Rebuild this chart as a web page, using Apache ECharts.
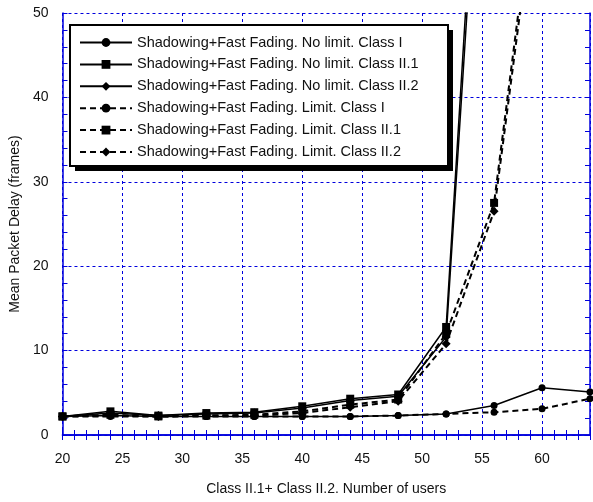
<!DOCTYPE html>
<html>
<head>
<meta charset="utf-8">
<script src="https://cdn.jsdelivr.net/npm/echarts@6/dist/echarts.min.js"></script>
<style>
  html, body { margin: 0; padding: 0; background: #fff; }
  #chart { width: 593px; height: 502px; }
</style>
</head>
<body>
<div id="chart"></div>
<script>
// number of users (Class II.1 + Class II.2)
const users = [20, 24, 28, 32, 36, 40, 44, 48, 52, 56, 60, 64]

// mean packet delay (frames)
const noLimitI   = [2.2, 2.3, 2.2, 2.2, 2.2, 2.2, 2.2, 2.3, 2.5, 3.5, 5.6, 5.1]
const noLimitII1 = [2.2, 2.8, 2.3, 2.6, 2.7, 3.4, 4.3, 4.8, 12.8, 105]
const noLimitII2 = [2.2, 2.6, 2.3, 2.5, 2.6, 3.2, 4.1, 4.6, 11.6, 100]
const limitI     = [2.2, 2.2, 2.2, 2.2, 2.2, 2.2, 2.2, 2.3, 2.5, 2.7, 3.1, 4.3]
const limitII1   = [2.2, 2.4, 2.2, 2.3, 2.4, 2.8, 3.6, 4.2, 12.0, 27.5, 72]
const limitII2   = [2.2, 2.3, 2.2, 2.3, 2.3, 2.6, 3.3, 4.0, 10.8, 26.5, 70]

const names = [
  'Shadowing+Fast Fading. No limit. Class I',
  'Shadowing+Fast Fading. No limit. Class II.1',
  'Shadowing+Fast Fading. No limit. Class II.2',
  'Shadowing+Fast Fading. Limit. Class I',
  'Shadowing+Fast Fading. Limit. Class II.1',
  'Shadowing+Fast Fading. Limit. Class II.2',
]

const blue = '#0000dd'
const font = 'Liberation Sans, Arial, sans-serif'

function pairs(vals) {
  return vals.map((v, i) => [users[i], v])
}

function makeSeries(name, vals, symbol, size, dashed) {
  return {
    name: name,
    type: 'line',
    xAxisIndex: 0,
    yAxisIndex: 0,
    data: pairs(vals),
    symbol: symbol,
    symbolSize: size,
    clip: true,
    color: '#000',
    itemStyle: { color: '#000' },
    lineStyle: {
      color: '#000',
      width: dashed ? 2 : 1.5,
      type: dashed ? [6, 4] : 'solid',
    },
    emphasis: { disabled: true },
  }
}

const tickStyle = { inside: true, length: 5, lineStyle: { color: blue, width: 1 } }
const lineStyle = { lineStyle: { color: blue, width: 1.5 } }

const chart = echarts.init(document.getElementById('chart'), null, { renderer: 'canvas' })
chart.setOption({
  animation: false,
  backgroundColor: '#fff',
  grid: { left: 62, right: 1, top: 13, bottom: 67 },
  // legend frame with hard black drop shadow
  graphic: [
    { type: 'rect', z: 3, shape: { x: 75, y: 30, width: 378, height: 141 }, style: { fill: '#000' } },
    { type: 'rect', z: 3, shape: { x: 70, y: 25, width: 378, height: 141 }, style: { fill: '#fff', stroke: '#000', lineWidth: 2 } },
  ],
  legend: {
    orient: 'vertical',
    left: 79,
    top: 35,
    z: 5,
    data: names,
    itemWidth: 52,
    itemHeight: 11,
    itemGap: 6.9,
    padding: 0,
    textStyle: { fontFamily: font, fontSize: 14.5, color: '#111' },
    selectedMode: false,
  },
  xAxis: [
    {
      type: 'value', position: 'bottom', min: 20, max: 64, interval: 1,
      axisLine: lineStyle,
      axisTick: tickStyle,
      splitLine: { show: false },
      axisLabel: {
        margin: 17, fontFamily: font, fontSize: 14, color: '#111',
        formatter: v => (v % 5 === 0 && v <= 60 ? String(v) : ''),
      },
      name: 'Class II.1+ Class II.2. Number of users',
      nameLocation: 'middle',
      nameGap: 47,
      nameTextStyle: { fontFamily: font, fontSize: 14, color: '#111' },
    },
    {
      type: 'value', position: 'top', min: 20, max: 64, interval: 1,
      axisLine: lineStyle,
      axisTick: tickStyle,
      axisLabel: { show: false },
      splitLine: { show: false },
    },
    {
      type: 'value', position: 'bottom', min: 20, max: 64, interval: 5,
      axisLine: { show: false },
      axisTick: { show: false },
      axisLabel: { show: false },
      splitLine: { show: true, lineStyle: { color: blue, width: 1, type: [3, 3] } },
    },
  ],
  yAxis: [
    {
      type: 'value', position: 'left', min: 0, max: 50, interval: 2,
      axisLine: lineStyle,
      axisTick: tickStyle,
      splitLine: { show: false },
      axisLabel: {
        margin: 14, fontFamily: font, fontSize: 14, color: '#111',
        formatter: v => (v % 10 === 0 ? String(v) : ''),
      },
      name: 'Mean Packet Delay (frames)',
      nameLocation: 'middle',
      nameGap: 33,
      nameTextStyle: { fontFamily: font, fontSize: 14, color: '#111' },
    },
    {
      type: 'value', position: 'right', min: 0, max: 50, interval: 2,
      axisLine: lineStyle,
      axisTick: tickStyle,
      axisLabel: { show: false },
      splitLine: { show: false },
    },
    {
      type: 'value', position: 'left', min: 0, max: 50, interval: 10,
      axisLine: { show: false },
      axisTick: { show: false },
      axisLabel: { show: false },
      splitLine: { show: true, lineStyle: { color: blue, width: 1, type: [3, 3] } },
    },
  ],
  series: [
    makeSeries(names[0], noLimitI, 'circle', 7, false),
    makeSeries(names[1], noLimitII1, 'rect', 8, false),
    makeSeries(names[2], noLimitII2, 'diamond', 9, false),
    makeSeries(names[3], limitI, 'circle', 7, true),
    makeSeries(names[4], limitII1, 'rect', 8, true),
    makeSeries(names[5], limitII2, 'diamond', 9, true),
  ],
})
</script>
</body>
</html>
